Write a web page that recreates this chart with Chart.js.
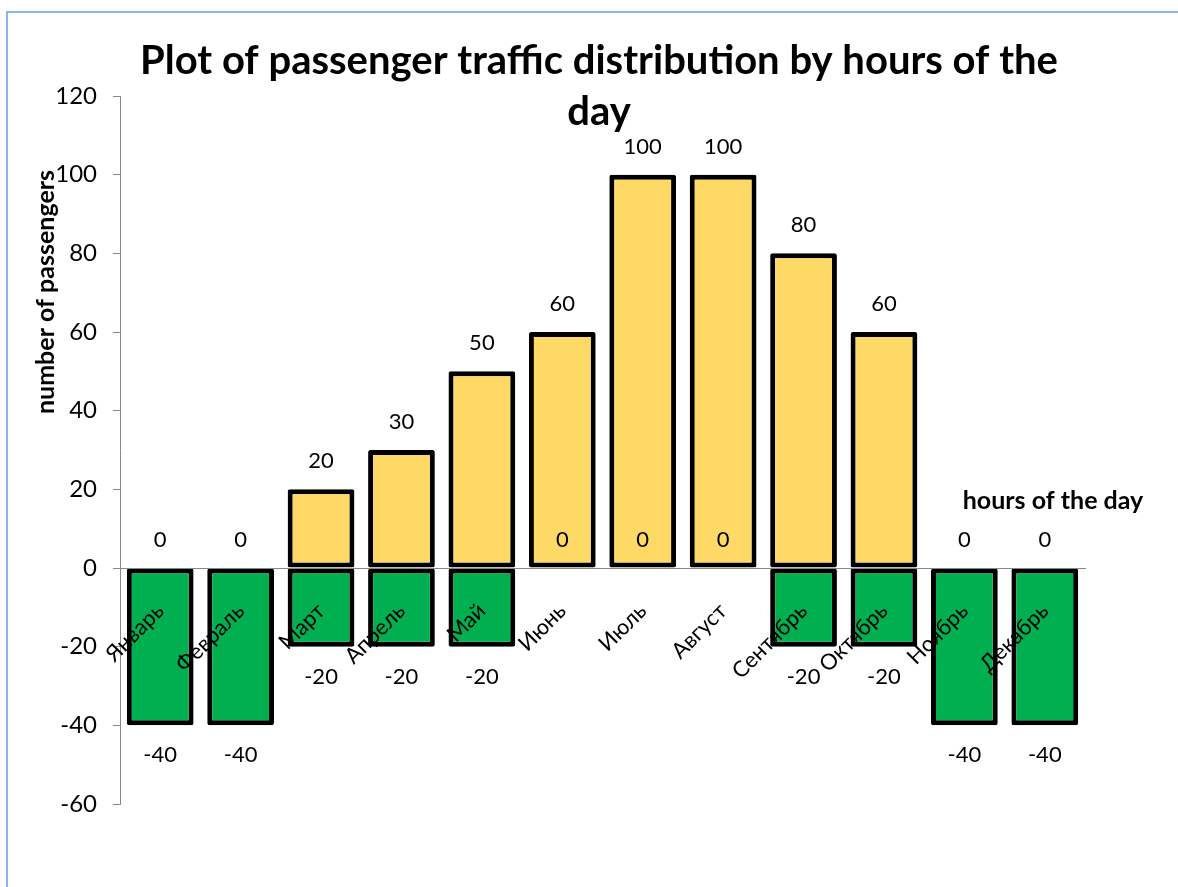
<!DOCTYPE html>
<html>
<head>
<meta charset="utf-8">
<script src="https://cdn.jsdelivr.net/npm/chart.js@4.4.1/dist/chart.umd.min.js"></script>
<style>
  html, body { margin: 0; padding: 0; overflow: hidden; background: #fff; }
  #frame { position: absolute; left: 6px; top: 11px; width: 1200px; height: 900px; border: 2px solid #8db4e2; }
  #wrap { position: absolute; left: 0; top: 0; width: 1178px; height: 887px; }
</style>
</head>
<body>
<div id="frame"></div>
<div id="wrap"><canvas id="chart"></canvas></div>
<script>
const months = ['Январь', 'Февраль', 'Март', 'Апрель', 'Май', 'Июнь', 'Июль', 'Август', 'Сентябрь', 'Октябрь', 'Ноябрь', 'Декабрь'];
const upValues = [0, 0, 20, 30, 50, 60, 100, 100, 80, 60, 0, 0];
const downValues = [-40, -40, -20, -20, -20, 0, 0, 0, -20, -20, -40, -40];
const yMin = -60, yMax = 120, yStep = 20;

const titleLines = ['Plot of passenger traffic distribution by hours of the', 'day'];
const yTitle = 'number of passengers';
const xTitle = 'hours of the day';

const font = 'Lato, "Open Sans", sans-serif';

// value labels above positive/zero bars, below negative ones
const valueLabels = {
  id: 'valueLabels',
  afterDatasetsDraw(chart) {
    const ctx = chart.ctx;
    ctx.save();
    ctx.font = '22px ' + font;
    ctx.fillStyle = '#000';
    ctx.textAlign = 'center';
    ctx.textBaseline = 'middle';
    chart.data.datasets.forEach((ds, i) => {
      chart.getDatasetMeta(i).data.forEach((bar, j) => {
        const v = ds.data[j];
        const y = v < 0 ? bar.y + 30 : bar.y - 28;
        ctx.fillText(String(v), bar.x, y);
      });
    });
    ctx.restore();
  }
};

// titles placed freely like in the original sheet
const titles = {
  id: 'titles',
  afterDraw(chart) {
    const ctx = chart.ctx;
    ctx.save();
    ctx.fillStyle = '#000';
    ctx.textAlign = 'center';
    ctx.textBaseline = 'middle';
    ctx.font = 'bold 40px ' + font;
    ctx.fillText(titleLines[0], 599, 61);
    ctx.fillText(titleLines[1], 599, 112);

    ctx.font = 'bold 25px ' + font;
    ctx.fillText(xTitle, 1053, 501);

    ctx.translate(46, 292);
    ctx.rotate(-Math.PI / 2);
    ctx.fillText(yTitle, 0, 0);
    ctx.restore();
  }
};

new Chart(document.getElementById('chart'), {
  type: 'bar',
  data: {
    labels: months,
    datasets: [
      {
        data: downValues,
        backgroundColor: '#00b050',
        borderColor: '#000',
        borderWidth: 5,
        borderSkipped: false,
        borderRadius: 2,
        grouped: false,
        barPercentage: 0.83,
        categoryPercentage: 1
      },
      {
        data: upValues,
        backgroundColor: '#ffd966',
        borderColor: '#000',
        borderWidth: 5,
        borderSkipped: false,
        borderRadius: 2,
        grouped: false,
        barPercentage: 0.83,
        categoryPercentage: 1
      }
    ]
  },
  options: {
    responsive: true,
    maintainAspectRatio: false,
    animation: false,
    layout: { padding: { top: 96, bottom: 83, right: 93, left: 0 } },
    plugins: {
      legend: { display: false },
      tooltip: { enabled: false }
    },
    scales: {
      x: {
        position: { y: 0 },
        grid: { display: false },
        border: { color: '#888', width: 1, z: 1 },
        ticks: {
          z: 2,
          autoSkip: false,
          maxRotation: 45,
          minRotation: 45,
          padding: 22,
          color: '#000',
          font: { family: font, size: 22 }
        }
      },
      y: {
        min: yMin,
        max: yMax,
        afterFit(scale) { scale.width = 120; },
        grid: { drawOnChartArea: false, tickLength: 7, color: '#888' },
        border: { color: '#888', width: 1 },
        ticks: {
          stepSize: yStep,
          padding: 16,
          color: '#000',
          font: { family: font, size: 24 }
        }
      }
    }
  },
  plugins: [valueLabels, titles]
});
</script>
</body>
</html>
